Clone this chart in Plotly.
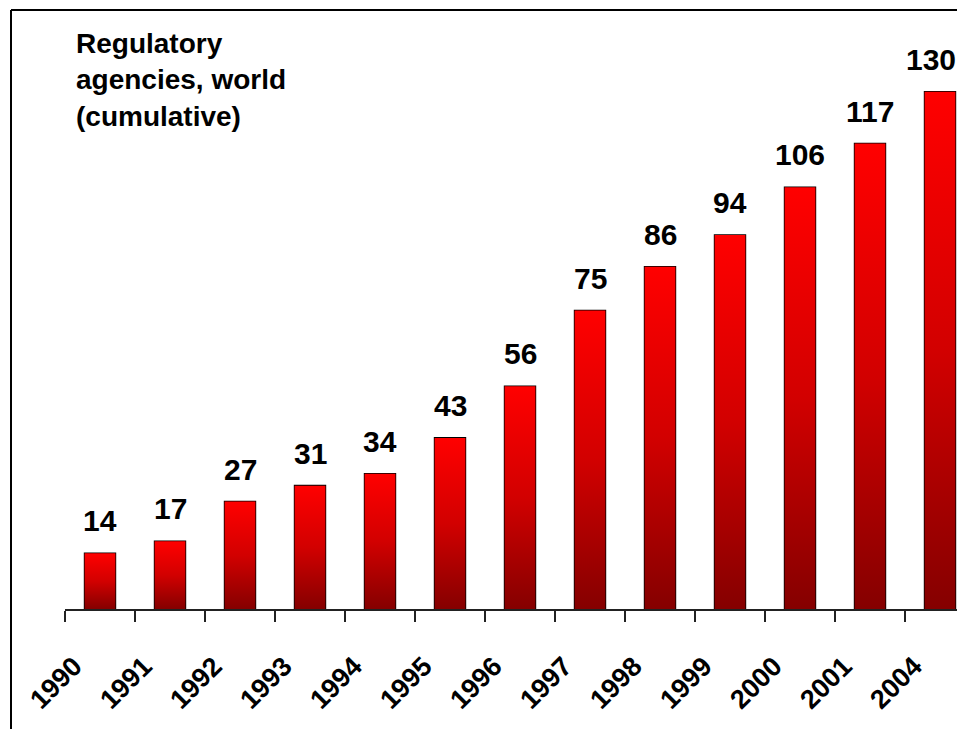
import plotly.graph_objects as go

years = ["1990", "1991", "1992", "1993", "1994", "1995", "1996",
         "1997", "1998", "1999", "2000", "2001", "2004"]
agencies = [14, 17, 27, 31, 34, 43, 56, 75, 86, 94, 106, 117, 130]
title_lines = ["Regulatory", "agencies, world", "(cumulative)"]

FONT = "Arial, Liberation Sans, sans-serif"
BAR_W = 0.44
idx = list(range(len(years)))

fig = go.Figure()

# gradient fill of each bar (dark red bottom -> bright red top)
for i, v in zip(idx, agencies):
    fig.add_trace(go.Scatter(
        x=[i - BAR_W / 2, i + BAR_W / 2, i + BAR_W / 2, i - BAR_W / 2, i - BAR_W / 2],
        y=[0, 0, v, v, 0],
        mode="lines", line=dict(width=0), fill="toself",
        fillgradient=dict(type="vertical",
                          colorscale=[[0, "#850000"], [0.5, "#d20000"], [1, "#ff0000"]]),
        hoverinfo="skip", showlegend=False,
    ))

# bar outlines
fig.add_trace(go.Bar(
    x=idx, y=agencies, width=BAR_W,
    marker=dict(color="rgba(0,0,0,0)", line=dict(color="black", width=1.6)),
    hoverinfo="skip", showlegend=False,
))

# value labels (the last one is nudged left so it stays inside the page)
last = len(idx) - 1
for i, v in zip(idx, agencies):
    fig.add_annotation(x=i, y=v, xref="x", yref="y", text=str(v),
                       showarrow=False, yanchor="bottom", yshift=14,
                       xshift=-9 if i == last else 0,
                       font=dict(family=FONT, size=30, color="black", weight="bold"))

# rotated year labels
for i, yr in zip(idx, years):
    fig.add_annotation(x=i, y=-0.1329, xref="x", yref="paper", text=yr,
                       showarrow=False, textangle=-45, xshift=-44,
                       xanchor="center", yanchor="middle",
                       font=dict(family=FONT, size=27, color="black", weight="bold"))

# chart title text
fig.add_annotation(x=(74 - 65) / 900, y=(609 - 26) / 557, xref="paper", yref="paper",
                   text="<br>".join(title_lines), showarrow=False, align="left",
                   xanchor="left", yanchor="top",
                   font=dict(family=FONT, size=28, color="black", weight="bold"))

# frame lines (left and top)
fx = (11 - 65) / 900
fy = (609 - 10) / 557
fig.add_shape(type="line", xref="paper", yref="paper",
              x0=fx, x1=fx, y0=-2, y1=fy, line=dict(color="black", width=2))
fig.add_shape(type="line", xref="paper", yref="paper",
              x0=fx, x1=2, y0=fy, y1=fy, line=dict(color="black", width=2))

fig.update_xaxes(range=[-0.5, -0.5 + 900 / 70],
                 tickmode="array", tickvals=[k - 0.5 for k in range(len(years) + 1)],
                 ticktext=[""] * (len(years) + 1),
                 ticks="outside", ticklen=11, tickwidth=2, tickcolor="#222",
                 showline=True, linecolor="#222", linewidth=2,
                 showgrid=False, zeroline=False, fixedrange=True)
fig.update_yaxes(range=[0, 140], visible=False, showgrid=False, zeroline=False)

# page body has an 8px margin, so the figure is 8px smaller than the window
fig.update_layout(
    width=957, height=721,
    margin=dict(l=57, r=0, t=44, b=120),
    plot_bgcolor="white", paper_bgcolor="white",
    showlegend=False,
)

fig.write_html("out.html")
